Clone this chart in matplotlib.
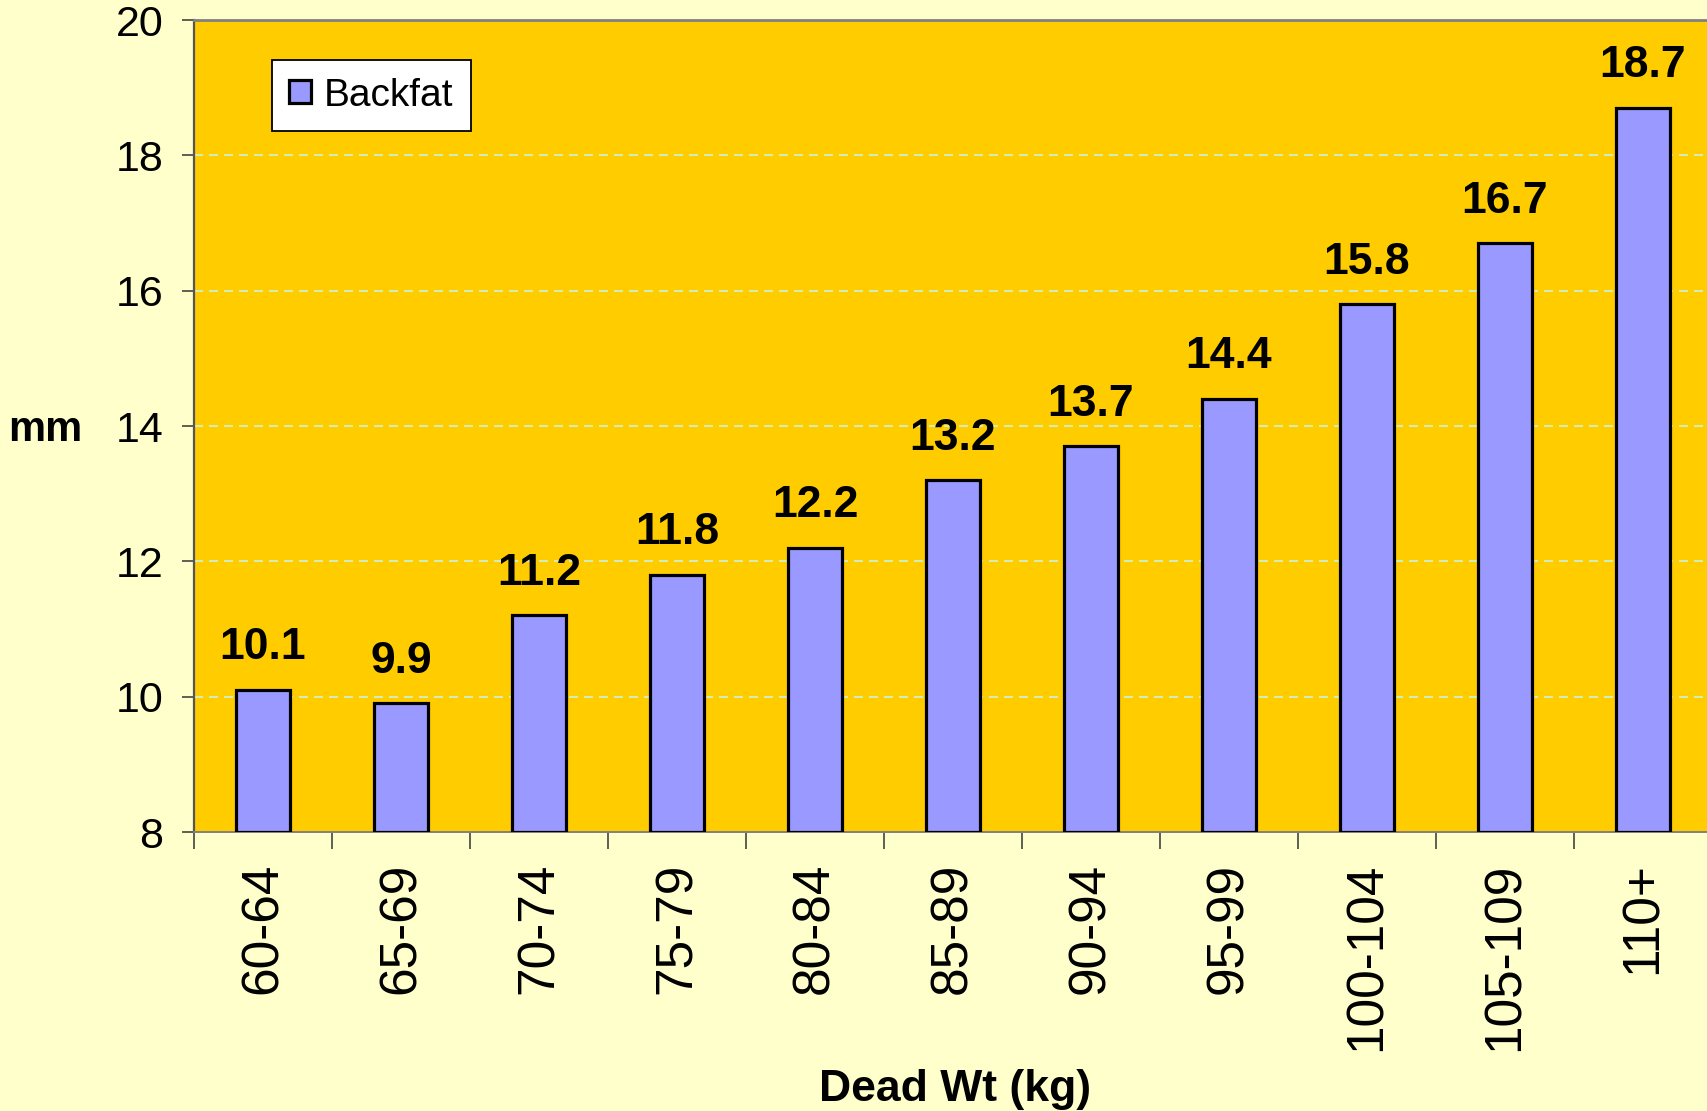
import matplotlib
matplotlib.use("Agg")
import matplotlib.pyplot as plt
from matplotlib.ticker import FixedLocator, NullFormatter

categories = ["60-64", "65-69", "70-74", "75-79", "80-84", "85-89",
              "90-94", "95-99", "100-104", "105-109", "110+"]
backfat = [10.1, 9.9, 11.2, 11.8, 12.2, 13.2, 13.7, 14.4, 15.8, 16.7, 18.7]
y_ticks = [8, 10, 12, 14, 16, 18, 20]
grid_levels = [10, 12, 14, 16, 18]

plt.rcParams['font.family'] = ['Liberation Sans', 'DejaVu Sans']
plt.rcParams['lines.scale_dashes'] = False

W, H = 1708, 1111
fig = plt.figure(figsize=(W / 100, H / 100), dpi=100, facecolor='#FFFFCC')
left, right, top, bottom = 194, 1712, 20, 832
ax = fig.add_axes([left / W, 1 - bottom / H, (right - left) / W, (bottom - top) / H])
ax.set_facecolor('#FFCC00')

x = list(range(len(categories)))
bars = ax.bar(x, [v - 8 for v in backfat], bottom=8, width=0.39, color='#9999FF',
              edgecolor='black', linewidth=2.3, label='Backfat', zorder=3)

for xi, v in zip(x, backfat):
    ax.annotate(f"{v:.1f}", xy=(xi, v), xytext=(0, 22), textcoords='offset points',
                ha='center', va='baseline', fontsize=32, fontweight='bold', color='black',
                zorder=4)

ax.set_xlim(-0.5, len(categories) - 0.5)
ax.set_ylim(8, 20)

for g in grid_levels:
    ax.axhline(g, color='#C8F8F0', linewidth=1.1, dashes=(6.5, 4.3), zorder=1)

ax.set_yticks(y_ticks)
ax.set_yticklabels([str(t) for t in y_ticks])
ax.tick_params(axis='y', direction='out', length=8.6, width=1.1, color='#333333',
               labelsize=31, pad=13.5, labelcolor='black')

ax.set_xticks(x)
ax.set_xticklabels(categories, rotation=90, va='top', ha='center')
ax.tick_params(axis='x', which='major', length=0, labelsize=37, pad=22, labelcolor='black')
ax.xaxis.set_minor_locator(FixedLocator([i - 0.5 for i in range(len(categories) + 1)]))
ax.xaxis.set_minor_formatter(NullFormatter())
ax.tick_params(axis='x', which='minor', direction='out', length=12, width=1.1, color='#333333')

for side in ['top', 'left', 'bottom', 'right']:
    ax.spines[side].set_color('#808080')
ax.spines['top'].set_linewidth(2.0)
ax.spines['left'].set_linewidth(1.6)
ax.spines['left'].set_color('#555555')
ax.spines['bottom'].set_linewidth(1.4)
ax.spines['right'].set_visible(False)

leg = ax.legend(loc='upper left', bbox_to_anchor=((272 - left) / (right - left), (bottom - 60) / (bottom - top)),
                borderaxespad=0, fontsize=28, frameon=True, fancybox=False,
                handlelength=0.55, handleheight=0.55, handletextpad=0.33, borderpad=0.45)
leg.get_frame().set_facecolor('white')
leg.get_frame().set_edgecolor('black')
leg.get_frame().set_linewidth(1.3)
leg.get_frame().set_alpha(1)

fig.text(955 / W, 1 - 1101 / H, "Dead Wt (kg)", ha='center', va='baseline',
         fontsize=32, fontweight='bold', color='black')
fig.text(8 / W, 1 - 441 / H, "mm", ha='left', va='baseline',
         fontsize=30, fontweight='bold', color='black')

fig.savefig("out.png", dpi=100, facecolor=fig.get_facecolor())
